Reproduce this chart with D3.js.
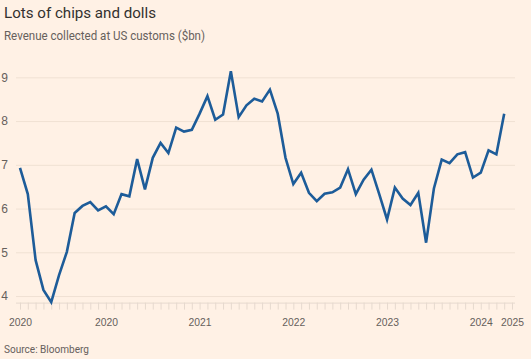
<!DOCTYPE html>
<html>
<head>
<meta charset="utf-8">
<script src="https://cdn.jsdelivr.net/npm/d3@7"></script>
<style>
  html, body { margin: 0; padding: 0; background: #fff1e5; }
  svg { display: block; font-family: Roboto, "Noto Sans", sans-serif; }
</style>
</head>
<body>
<svg id="vis" width="531" height="359"></svg>
<script>
// monthly revenue, Feb 2020 .. Apr 2025 ($bn)
const months = d3.range(63);
const revenue = [
  6.93, 6.33, 4.82, 4.14, 3.86, 4.48, 5.01, 5.90, 6.06, 6.15, 5.96,
  6.05, 5.87, 6.33, 6.28, 7.13, 6.44, 7.16, 7.50, 7.27, 7.85, 7.76, 7.80,
  8.17, 8.57, 8.03, 8.15, 9.14, 8.09, 8.36, 8.51, 8.45, 8.72, 8.17, 7.16,
  6.56, 6.82, 6.36, 6.17, 6.34, 6.37, 6.48, 6.90, 6.33, 6.66, 6.89, 6.33,
  5.75, 6.48, 6.23, 6.08, 6.36, 5.22, 6.46, 7.12, 7.04, 7.24, 7.29, 6.71,
  6.82, 7.33, 7.24, 8.17
];
const yTicks = [4, 5, 6, 7, 8, 9];
const xTickIndex = [0, 11, 23, 35, 47, 59, 63];
const xTickLabels = ["2020", "2020", "2021", "2022", "2023", "2024", "2025"];

const svg = d3.select("svg#vis");

const x = d3.scaleLinear().domain([0, 63]).range([20, 512]);
const y = d3.scaleLinear().domain([3.85, 9.2]).range([302.6, 68.6]);

// titles (FT font is narrow, so fit to the reference widths)
svg.append("text")
  .attr("x", 4).attr("y", 17.5)
  .attr("fill", "#33302e")
  .attr("textLength", 152)
  .attr("lengthAdjust", "spacingAndGlyphs")
  .style("font-size", "15.5px")
  .text("Lots of chips and dolls");

svg.append("text")
  .attr("x", 4).attr("y", 39.5)
  .attr("fill", "#66605c")
  .attr("textLength", 201)
  .attr("lengthAdjust", "spacingAndGlyphs")
  .style("font-size", "12px")
  .text("Revenue collected at US customs ($bn)");

// gridlines + y labels
const yAxis = d3.axisLeft(y)
  .tickValues(yTicks)
  .tickSize(-(515 - 16))
  .tickFormat(d3.format("d"));

const yGroup = svg.append("g")
  .attr("transform", "translate(16,0)")
  .call(yAxis);
yGroup.select(".domain").remove();
yGroup.selectAll(".tick line").attr("stroke", "#f0e1d3");
yGroup.selectAll(".tick text")
  .attr("x", -8)
  .attr("fill", "#66605c")
  .style("font-size", "12px")
  .style("font-family", "inherit");

// x axis: minor ticks every month, labels at year marks
const xMinor = d3.axisBottom(x)
  .tickValues(d3.range(64))
  .tickSize(7)
  .tickFormat("");
const xGroup = svg.append("g")
  .attr("transform", "translate(0," + y(3.85) + ")")
  .call(xMinor);
xGroup.select(".domain")
  .attr("d", "M16,0.5H515")
  .attr("stroke", "#e6d9ce");
xGroup.selectAll(".tick line").attr("stroke", "#e6d9ce");

const xLabels = d3.axisBottom(x)
  .tickValues(xTickIndex)
  .tickSize(0)
  .tickPadding(16)
  .tickFormat((d, i) => xTickLabels[i]);
const xLabelGroup = svg.append("g")
  .attr("transform", "translate(0," + y(3.85) + ")")
  .call(xLabels);
xLabelGroup.select(".domain").remove();
xLabelGroup.selectAll(".tick text")
  .attr("fill", "#66605c")
  .attr("textLength", 23)
  .attr("lengthAdjust", "spacingAndGlyphs")
  .style("font-size", "11px")
  .style("font-family", "inherit");

// line
const line = d3.line()
  .x((d, i) => x(months[i]))
  .y(d => y(d));

svg.append("path")
  .datum(revenue)
  .attr("fill", "none")
  .attr("stroke", "#1d5c99")
  .attr("stroke-width", 2.6)
  .attr("stroke-linejoin", "miter")
  .attr("d", line);

// source
svg.append("text")
  .attr("x", 4).attr("y", 352.5)
  .attr("fill", "#66605c")
  .attr("textLength", 85)
  .attr("lengthAdjust", "spacingAndGlyphs")
  .style("font-size", "11px")
  .text("Source: Bloomberg");
</script>
</body>
</html>
